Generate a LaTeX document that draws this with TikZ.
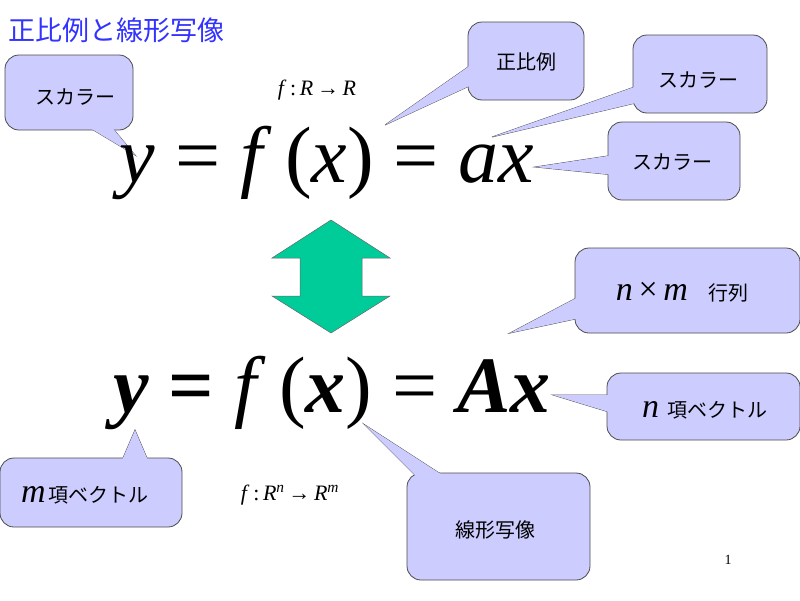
\documentclass[tikz,border=0pt]{standalone}
\usepackage{fontspec}
\setmainfont{Liberation Serif}
\newfontfamily\cjk{Noto Sans CJK JP}
\definecolor{callfill}{RGB}{204,204,255}
\definecolor{arrgreen}{RGB}{0,204,153}
\definecolor{titleblue}{RGB}{51,51,255}
\newcommand{\callout}[8]{%
  \coordinate (#1tip) at #6;
  \filldraw[co] #4 -- (#1tip) -- #5 -- cycle;
  \filldraw[co,rounded corners=14pt] #2 rectangle #3;
  \fill[callfill] #4 -- (#1tip) -- #5 -- cycle;
  \node[cot] (#1) at #7 {#8};}
\newcommand{\vi}[1]{\textit{#1}}
\newcommand{\vb}[1]{\textbf{\textit{#1}}}
\begin{document}
\begin{tikzpicture}[x=1pt,y=-1pt,
  co/.style={fill=callfill,draw=black!70,line width=0.8pt},
  cot/.style={font=\cjk\fontsize{20}{24}\selectfont,inner sep=0pt},
  eq/.style={inner sep=0pt,font=\fontsize{80}{84}\selectfont}]
\useasboundingbox[fill=white] (0,0) rectangle (800,600);
\node[anchor=west,text=titleblue,font=\cjk\fontsize{27}{30}\selectfont,inner sep=0pt] (title) at (8,30) {正比例と線形写像};

\callout{c1}{(5,55)}{(133,130)}{(85,125)}{(110,125)}{(135,155)}{(75,97)}{スカラー}
\callout{c2}{(468,22)}{(584,100)}{(478,60)}{(478,82)}{(385,125)}{(526,62)}{正比例}
\callout{c3}{(633,35)}{(767,113)}{(640,85)}{(640,102)}{(492,137)}{(698,80)}{スカラー}
\callout{c4}{(608,122)}{(740,200)}{(614,155)}{(614,175)}{(535,167)}{(672,162)}{スカラー}
\callout{c5}{(575,248)}{(800,333)}{(580,296)}{(580,318)}{(510,333)}{(682,292)}{{\fontspec{Liberation Serif}\fontsize{34}{36}\selectfont\itshape n\,\upshape×\,\itshape m}\quad 行列}
\callout{c6}{(607,373)}{(800,440)}{(612,395)}{(612,413)}{(553,395)}{(705,410)}{{\fontspec{Liberation Serif}\fontsize{34}{36}\selectfont\itshape n}\ \ 項ベクトル}
\callout{c7}{(0,458)}{(182,527)}{(120,465)}{(150,465)}{(135,430)}{(85,495)}{{\fontspec{Liberation Serif}\fontsize{34}{36}\selectfont\itshape m}\,項ベクトル}
\callout{c8}{(407,473)}{(590,580)}{(420,480)}{(450,480)}{(365,425)}{(495,530)}{線形写像}

\node[eq] (eq1) at (327,163) {\vi{y} = \vi{f}\,(\vi{x}) = \vi{ax}};
\node[eq] (eq2) at (332,393) {\vb{y} \textbf{=} \vi{f}\,(\vb{x}) = \vb{Ax}};

\node[inner sep=0pt,font=\fontsize{22}{24}\selectfont] (m1) at (317,90) {\vi{f}\,:\,\vi{R}\,→\,\vi{R}};
\node[inner sep=0pt,font=\fontsize{22}{24}\selectfont] (m2) at (290,495) {\vi{f}\,:\,\vi{R}\textsuperscript{\vi{n}}\,→\,\vi{R}\textsuperscript{\vi{m}}};
\node[inner sep=0pt,font=\fontsize{14}{16}\selectfont] (pg) at (728,560) {1};

\filldraw[fill=arrgreen,draw=black!60,line width=0.5pt]
  (331,220) -- (390,258) -- (362,258) -- (362,296) -- (390,296) -- (331,333)
  -- (272,296) -- (300,296) -- (300,258) -- (272,258) -- cycle;
\end{tikzpicture}
\end{document}
